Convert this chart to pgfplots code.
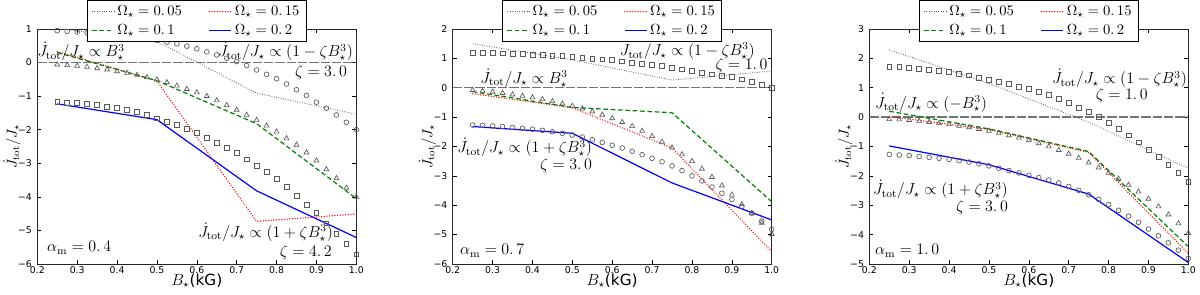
\documentclass[border=0pt]{standalone}
\usepackage{fontspec}
\usepackage{pgfplots}
\pgfplotsset{compat=1.18}
\usepackage{pgfplotstable}
\newfontfamily\dejavu{DejaVu Sans}
\definecolor{mgreen}{rgb}{0,0.5,0}
\definecolor{mgray}{gray}{0.35}
\newcommand{\Jr}{\dot{J}_{\mathrm{tot}}/J_\star}
\tikzset{ann/.style={font=\fontsize{11.6}{14}\selectfont, inner sep=0pt}}

\pgfplotstableread{
x top mid low
0.250 0.95 -0.06 -1.17
0.275 0.93 -0.08 -1.19
0.300 0.91 -0.10 -1.21
0.325 0.89 -0.13 -1.24
0.350 0.87 -0.17 -1.27
0.375 0.84 -0.21 -1.31
0.400 0.81 -0.26 -1.35
0.425 0.78 -0.31 -1.40
0.450 0.74 -0.37 -1.46
0.475 0.70 -0.44 -1.55
0.500 0.66 -0.51 -1.66
0.525 0.61 -0.59 -1.76
0.550 0.56 -0.69 -1.86
0.575 0.49 -0.79 -1.97
0.600 0.41 -0.89 -2.10
0.625 0.32 -1.00 -2.23
0.650 0.23 -1.13 -2.38
0.675 0.13 -1.27 -2.54
0.700 0.03 -1.41 -2.70
0.725 -0.09 -1.56 -2.88
0.750 -0.22 -1.71 -3.07
0.775 -0.35 -1.88 -3.25
0.800 -0.48 -2.06 -3.46
0.825 -0.64 -2.26 -3.71
0.850 -0.81 -2.45 -3.97
0.875 -0.98 -2.68 -4.23
0.900 -1.18 -2.92 -4.48
0.925 -1.36 -3.18 -4.79
0.950 -1.56 -3.45 -5.10
0.975 -1.78 -3.73 -5.39
1.000 -2.00 -4.00 -5.71
}\tabA

\pgfplotstableread{
x top mid low
0.250 1.19 -0.08 -1.27
0.275 1.19 -0.11 -1.28
0.300 1.18 -0.14 -1.30
0.325 1.17 -0.18 -1.32
0.350 1.16 -0.23 -1.35
0.375 1.15 -0.28 -1.38
0.400 1.13 -0.33 -1.41
0.425 1.12 -0.39 -1.45
0.450 1.10 -0.46 -1.50
0.475 1.08 -0.54 -1.55
0.500 1.05 -0.62 -1.61
0.525 1.02 -0.71 -1.68
0.550 0.99 -0.81 -1.77
0.575 0.97 -0.92 -1.86
0.600 0.94 -1.04 -1.96
0.625 0.90 -1.17 -2.05
0.650 0.86 -1.31 -2.16
0.675 0.82 -1.47 -2.28
0.700 0.78 -1.65 -2.40
0.725 0.74 -1.84 -2.52
0.750 0.68 -2.04 -2.66
0.775 0.63 -2.27 -2.82
0.800 0.58 -2.50 -3.00
0.825 0.52 -2.76 -3.17
0.850 0.46 -3.04 -3.38
0.875 0.41 -3.33 -3.59
0.900 0.36 -3.64 -3.80
0.925 0.29 -3.97 -4.05
0.950 0.20 -4.27 -4.27
0.975 0.09 -4.60 -4.54
1.000 0.01 -4.98 -4.82
}\tabB

\pgfplotstableread{
x top mid low
0.250 1.72 -0.07 -1.27
0.275 1.70 -0.08 -1.29
0.300 1.68 -0.10 -1.31
0.325 1.65 -0.13 -1.34
0.350 1.61 -0.17 -1.37
0.375 1.57 -0.21 -1.40
0.400 1.53 -0.25 -1.44
0.425 1.48 -0.30 -1.48
0.450 1.42 -0.35 -1.53
0.475 1.35 -0.41 -1.59
0.500 1.28 -0.47 -1.66
0.525 1.21 -0.54 -1.74
0.550 1.13 -0.62 -1.82
0.575 1.04 -0.70 -1.90
0.600 0.95 -0.79 -1.98
0.625 0.86 -0.89 -2.06
0.650 0.75 -1.00 -2.14
0.675 0.63 -1.12 -2.24
0.700 0.49 -1.25 -2.36
0.725 0.33 -1.39 -2.49
0.750 0.17 -1.55 -2.64
0.775 0.00 -1.72 -2.80
0.800 -0.20 -1.90 -2.98
0.825 -0.41 -2.10 -3.17
0.850 -0.62 -2.31 -3.37
0.875 -0.86 -2.54 -3.58
0.900 -1.10 -2.78 -3.81
0.925 -1.35 -3.04 -4.04
0.950 -1.63 -3.32 -4.28
0.975 -1.90 -3.62 -4.53
1.000 -2.20 -3.95 -4.81
}\tabC

\pgfplotsset{
  panel/.style={
    scale only axis, width=239.25pt, height=176.25pt,
    xmin=0.2, xmax=1.0,
    xtick={0.2,0.3,0.4,0.5,0.6,0.7,0.8,0.9,1.0},
    xticklabels={0.2,0.3,0.4,0.5,0.6,0.7,0.8,0.9,1.0},
    tick label style={font=\fontsize{7}{8}\selectfont\dejavu},
    xticklabel style={anchor=base, yshift=-6.9pt},
    yticklabel style={xshift=-0.5pt},
    major tick length=3pt,
    tick style={black, line width=0.4pt},
    axis line style={black!85, line width=0.6pt},
    every axis x label/.style={at={(axis description cs:0.5,0)}, anchor=base, yshift=-16pt, font=\fontsize{11.5}{12}\selectfont},
    every axis y label/.style={at={(axis description cs:-0.0794,0.5)}, anchor=center, rotate=90, font=\fontsize{10.5}{12}\selectfont},
    xlabel={$B_\star${\dejavu(kG)}},
    ylabel={$\Jr$},
    legend columns=2,
    legend cell align=left,
    legend image code/.code={\draw[##1] (0pt,0pt) -- (16.5pt,0pt);},
    legend style={at={(0.5,1)}, anchor=north, yshift=21.75pt,
      draw=black, line width=0.5pt, fill=white,
      font=\fontsize{11}{12}\selectfont,
      inner xsep=3pt, inner ysep=2pt, row sep=1pt,
      /tikz/every even column/.append style={column sep=18pt}},
  },
  mk/.style={only marks, forget plot, mark size=1.8pt, mark options={draw=mgray, line width=0.5pt, fill=none}},
  mt/.style={mark=triangle, mark size=2.1pt},
  l05/.style={black!65, line width=0.6pt, dash pattern=on 0.6pt off 1.2pt},
  l10/.style={mgreen, line width=0.9pt, dash pattern=on 3.5pt off 2pt},
  l15/.style={red, line width=1.1pt, line cap=round, dash pattern=on 0pt off 2pt},
  l20/.style={blue, line width=0.9pt},
  zl/.style={black!55, line width=1.1pt, dash pattern=on 7pt off 1.5pt, forget plot},
}

\begin{document}
\begin{tikzpicture}
\path[use as bounding box] (-27.975pt,-22.5pt) rectangle (872pt,198pt);

% ---------------- panel 1 ----------------
\begin{axis}[panel, at={(0pt,0pt)}, ymin=-6, ymax=1,
  ytick={-6,-5,-4,-3,-2,-1,0,1}, yticklabels={−6,−5,−4,−3,−2,−1,0,1}]
\addplot[zl] coordinates {(0.2,0) (1.0,0)};
\addplot[l05] coordinates {(0.25,1.02) (0.5,0.63) (0.75,-0.91) (1.0,-1.54)};
\addlegendentry{$\Omega_\star=0.\,05$}
\addplot[l15] coordinates {(0.25,0.33) (0.5,-0.55) (0.75,-4.73) (1.0,-4.51)};
\addlegendentry{$\Omega_\star=0.\,15$}
\addplot[l10] coordinates {(0.25,0.30) (0.5,-0.54) (0.75,-1.82) (1.0,-4.05)};
\addlegendentry{$\Omega_\star=0.\,1$}
\addplot[l20] coordinates {(0.25,-1.23) (0.5,-1.70) (0.75,-3.82) (1.0,-5.21)};
\addlegendentry{$\Omega_\star=0.\,2$}
\addplot[mk, mark=o] table[x=x, y=top] {\tabA};
\addplot[mk, mt] table[x=x, y=mid] {\tabA};
\addplot[mk, mark=square] table[x=x, y=low] {\tabA};
\node[ann, anchor=base west] at (axis cs:0.2,0.17) {$\Jr\propto B_\star^3$};
\node[ann, anchor=base east] at (axis cs:0.992,0.17) {$\Jr\propto(1-\zeta B_\star^3)$};
\node[ann, anchor=base east] at (axis cs:0.977,-0.42) {$\zeta=3.\,0$};
\node[ann, anchor=base east] at (axis cs:0.942,-5.20) {$\Jr\propto(1+\zeta B_\star^3)$};
\node[ann, anchor=base east] at (axis cs:0.939,-5.78) {$\zeta=4.\,2$};
\node[ann, anchor=base west] at (axis cs:0.224,-5.64) {$\alpha_{\mathrm{m}}=0.\,4$};
\end{axis}

% ---------------- panel 2 ----------------
\begin{axis}[panel, at={(311.55pt,0pt)}, ymin=-6, ymax=2,
  ytick={-6,-5,-4,-3,-2,-1,0,1,2}, yticklabels={−6,−5,−4,−3,−2,−1,0,1,2}]
\addplot[zl] coordinates {(0.2,0) (1.0,0)};
\addplot[l05] coordinates {(0.25,1.50) (0.5,0.95) (0.75,0.26) (1.0,0.57)};
\addlegendentry{$\Omega_\star=0.\,05$}
\addplot[l15] coordinates {(0.25,-0.20) (0.5,-0.68) (0.75,-2.05) (1.0,-5.58)};
\addlegendentry{$\Omega_\star=0.\,15$}
\addplot[l10] coordinates {(0.25,-0.13) (0.5,-0.67) (0.75,-0.85) (1.0,-3.88)};
\addlegendentry{$\Omega_\star=0.\,1$}
\addplot[l20] coordinates {(0.25,-1.32) (0.5,-1.55) (0.75,-3.24) (1.0,-4.50)};
\addlegendentry{$\Omega_\star=0.\,2$}
\addplot[mk, mark=square] table[x=x, y=top] {\tabB};
\addplot[mk, mt] table[x=x, y=mid] {\tabB};
\addplot[mk, mark=o] table[x=x, y=low] {\tabB};
\node[ann, anchor=base east] at (axis cs:0.958,1.09) {$\Jr\propto(1-\zeta B_\star^3)$};
\node[ann, anchor=base east] at (axis cs:0.99,0.62) {$\zeta=1.\,0$};
\node[ann, anchor=base west] at (axis cs:0.269,0.16) {$\Jr\propto B_\star^3$};
\node[ann, anchor=base west] at (axis cs:0.211,-2.22) {$\Jr\propto(1+\zeta B_\star^3)$};
\node[ann, anchor=base east] at (axis cs:0.55,-2.79) {$\zeta=3.\,0$};
\node[ann, anchor=base west] at (axis cs:0.218,-5.69) {$\alpha_{\mathrm{m}}=0.\,7$};
\end{axis}

% ---------------- panel 3 ----------------
\begin{axis}[panel, at={(624pt,0pt)}, ymin=-5, ymax=3,
  ytick={-5,-4,-3,-2,-1,0,1,2,3}, yticklabels={−5,−4,−3,−2,−1,0,1,2,3}]
\addplot[zl] coordinates {(0.2,0) (1.0,0)};
\addplot[l05] coordinates {(0.25,2.29) (0.5,1.15) (0.75,-0.17) (1.0,-1.74)};
\addlegendentry{$\Omega_\star=0.\,05$}
\addplot[l15] coordinates {(0.25,0.02) (0.5,-0.42) (0.75,-1.20) (1.0,-4.64)};
\addlegendentry{$\Omega_\star=0.\,15$}
\addplot[l10] coordinates {(0.25,0.20) (0.5,-0.40) (0.75,-1.17) (1.0,-4.41)};
\addlegendentry{$\Omega_\star=0.\,1$}
\addplot[l20] coordinates {(0.25,-0.98) (0.5,-1.62) (0.75,-2.62) (1.0,-4.95)};
\addlegendentry{$\Omega_\star=0.\,2$}
\addplot[mk, mark=square] table[x=x, y=top] {\tabC};
\addplot[mk, mt] table[x=x, y=mid] {\tabC};
\addplot[mk, mark=o] table[x=x, y=low] {\tabC};
\node[ann, anchor=base east] at (axis cs:0.997,1.13) {$\Jr\propto(1-\zeta B_\star^3)$};
\node[ann, anchor=base east] at (axis cs:0.899,0.60) {$\zeta=1.\,0$};
\node[ann, anchor=base west] at (axis cs:0.214,0.31) {$\Jr\propto(-B_\star^3)$};
\node[ann, anchor=base west] at (axis cs:0.209,-2.65) {$\Jr\propto(1+\zeta B_\star^3)$};
\node[ann, anchor=base east] at (axis cs:0.548,-3.22) {$\zeta=3.\,0$};
\node[ann, anchor=base west] at (axis cs:0.214,-4.69) {$\alpha_{\mathrm{m}}=1.\,0$};
\end{axis}
\end{tikzpicture}
\end{document}
